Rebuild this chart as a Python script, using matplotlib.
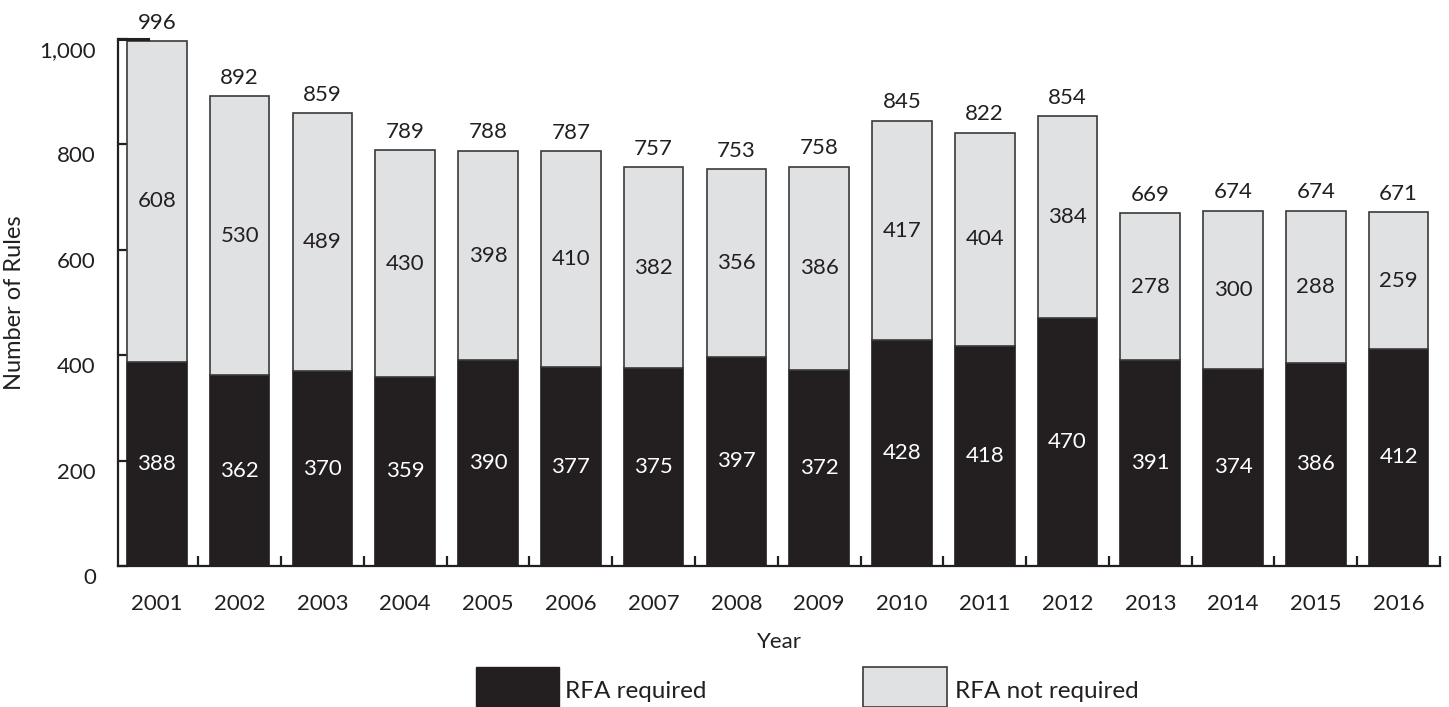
import matplotlib
matplotlib.use("Agg")
import matplotlib.pyplot as plt
import matplotlib.transforms as mtransforms
from matplotlib.patches import Rectangle
import numpy as np

years = ["2001", "2002", "2003", "2004", "2005", "2006", "2007", "2008",
         "2009", "2010", "2011", "2012", "2013", "2014", "2015", "2016"]
rfa_required = [388, 362, 370, 359, 390, 377, 375, 397, 372, 428, 418, 470, 391, 374, 386, 412]
rfa_not_required = [608, 530, 489, 430, 398, 410, 382, 356, 386, 417, 404, 384, 278, 300, 288, 259]
totals = [996, 892, 859, 789, 788, 787, 757, 753, 758, 845, 822, 854, 669, 674, 674, 671]
series_names = ["RFA required", "RFA not required"]
yticks = [0, 200, 400, 600, 800, 1000]
ytick_labels = ["0", "200", "400", "600", "800", "1,000"]

BLACK = "#231f20"
GRAY = "#e0e1e3"

plt.rcParams['font.family'] = ['Lato', 'DejaVu Sans']
FS = 16

fig = plt.figure(figsize=(14.49, 7.07), dpi=100)
ax = fig.add_axes([118/1449, 1-566/707, (1440-118)/1449, (566-39)/707])

x = np.arange(len(years))
w = 0.72
ax.bar(x, rfa_required, width=w, color=BLACK, edgecolor=BLACK, linewidth=1.2, zorder=2)
ax.bar(x, rfa_not_required, width=w, bottom=rfa_required, color=GRAY, edgecolor="#3a3a3a",
       linewidth=1.2, zorder=2)

for i in range(len(years)):
    r, n, t = rfa_required[i], rfa_not_required[i], totals[i]
    ax.text(x[i], r / 2, str(r), ha="center", va="center", color="white", fontsize=FS, zorder=3)
    ax.text(x[i], r + n / 2, str(n), ha="center", va="center", color=BLACK, fontsize=FS, zorder=3)
    ax.annotate(str(t), (x[i], r + n), xytext=(0, 6), textcoords="offset points",
                ha="center", va="bottom", color=BLACK, fontsize=FS)

ax.set_xlim(-0.47, 15.5)
ax.set_ylim(0, 1000)

for s in ["top", "right"]:
    ax.spines[s].set_visible(False)
for s in ["left", "bottom"]:
    ax.spines[s].set_linewidth(1.6)
    ax.spines[s].set_color(BLACK)

ax.set_yticks(yticks)
ax.set_yticklabels(ytick_labels, fontsize=FS, color=BLACK)
ax.tick_params(axis="y", direction="in", length=7.5, width=1.6, color=BLACK, pad=16)
shift = mtransforms.ScaledTranslation(0, -0.10, fig.dpi_scale_trans)
for lab in ax.get_yticklabels():
    lab.set_transform(lab.get_transform() + shift)

ax.set_xticks(np.arange(0.5, 16, 1.0))
ax.set_xticklabels([])
ax.set_xticks(x, minor=True)
ax.set_xticklabels(years, minor=True, fontsize=FS, color=BLACK)
ax.tick_params(axis="x", which="major", direction="in", length=7.5, width=1.6, color=BLACK)
ax.tick_params(axis="x", which="minor", length=0, pad=20)

# longer top tick at 1,000
ax.plot([-0.47, -0.47 + 30/82.8], [1000, 1000], color=BLACK, lw=2.2, clip_on=False, zorder=4)

ax.set_ylabel("Number of Rules", fontsize=17, color=BLACK)
ax.yaxis.set_label_coords(-93/1322, 0.5)
fig.text(779/1449, 1-642/707, "Year", ha="center", va="center", fontsize=16, color=BLACK)

# legend
fig.add_artist(Rectangle((476/1449, 0), 83/1449, 40/707, transform=fig.transFigure,
                         facecolor=BLACK, edgecolor=BLACK, lw=1))
fig.text(565/1449, 1-691/707, series_names[0], ha="left", va="center", fontsize=17.5, color=BLACK)
fig.add_artist(Rectangle((863/1449, 0), 84/1449, 40/707, transform=fig.transFigure,
                         facecolor=GRAY, edgecolor="#3a3a3a", lw=1.2))
fig.text(955/1449, 1-691/707, series_names[1], ha="left", va="center", fontsize=17.5, color=BLACK)

fig.savefig("out.png", dpi=100)
